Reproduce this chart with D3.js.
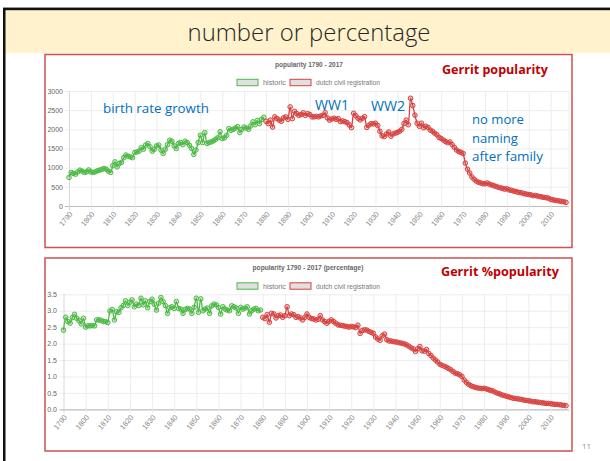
<!DOCTYPE html>
<html><head><meta charset="utf-8">
<script src="https://cdn.jsdelivr.net/npm/d3@7"></script>
<style>body{margin:0;background:#fff;} svg{display:block}</style>
</head><body>
<svg id="c" width="610" height="461"></svg>
<script>
// ---------------- DATA ----------------
const historicStart = 1790;   // first year of the "historic" series
const civilStart = 1880;      // first year of the "dutch civil registration" series

const historicCount = [
  745, 875, 850, 830, 890, 935, 910, 875, 890, 940,
  890, 875, 890, 920, 935, 955, 980, 960, 910, 875,
  1050, 1150, 1020, 1110, 1140, 1260, 1330, 1300, 1280, 1260,
  1395, 1410, 1430, 1520, 1480, 1590, 1630, 1545, 1430, 1480,
  1570, 1590, 1460, 1370, 1480, 1600, 1715, 1690, 1570, 1500,
  1630, 1655, 1600, 1690, 1655, 1585, 1500, 1345, 1460, 1655,
  1845, 1655, 1915, 1630, 1655, 1675, 1700, 1740, 1780, 1935,
  1760, 1780, 1845, 2020, 1975, 2000, 2035, 2070, 1915, 2000,
  2060, 2035, 2000, 2090, 2195, 2120, 2230, 2150, 2260, 2315
];
const civilCount = [
  2210, 2150, 2240, 2060, 2325, 2280, 2240, 2210, 2300, 2325,
  2260, 2585, 2280, 2470, 2410, 2365, 2385, 2430, 2365, 2410,
  2385, 2325, 2325, 2340, 2325, 2350, 2365, 2435, 2300, 2240,
  2270, 2290, 2260, 2280, 2200, 2220, 2200, 2175, 2115, 2045,
  2420, 2355, 2290, 2245, 2290, 2330, 2050, 2110, 2150, 2140,
  2160, 2100, 1950, 1830, 1810, 1880, 1930, 1820, 1880, 1900,
  1920, 1950, 2000, 2150, 2240, 2120, 2810, 2620, 2370, 2160,
  2080, 2160, 2040, 2080, 2050, 1980, 1950, 1900, 1860, 1790,
  1760, 1720, 1680, 1650, 1670, 1600, 1530, 1460, 1420, 1400,
  1370, 1120, 960, 860, 760, 700, 650, 620, 600, 580,
  580, 600, 570, 550, 530, 510, 490, 475, 460, 440,
  450, 420, 410, 390, 380, 360, 350, 340, 320, 310,
  300, 290, 270, 275, 260, 245, 235, 225, 215, 205,
  170, 160, 150, 140, 130, 120, 110, 95
];
const historicPct = [
  2.41, 2.80, 2.67, 2.62, 2.79, 2.89, 2.77, 2.70, 2.60, 2.77,
  2.50, 2.54, 2.54, 2.55, 2.54, 2.72, 2.72, 2.71, 2.67, 2.67,
  2.64, 2.99, 3.04, 2.72, 2.97, 2.95, 3.09, 3.16, 3.30, 3.16,
  3.26, 3.33, 3.12, 3.20, 3.16, 3.38, 3.18, 3.30, 3.09, 3.28,
  3.35, 3.20, 3.02, 3.23, 3.40, 3.28, 3.16, 2.92, 3.09, 3.12,
  3.07, 3.28, 3.07, 3.05, 2.92, 3.04, 3.07, 3.05, 2.92, 3.10,
  3.38, 2.95, 3.36, 3.00, 3.05, 3.08, 2.92, 3.15, 3.20, 3.18,
  3.10, 2.90, 3.12, 3.05, 3.02, 3.00, 3.15, 3.12, 3.08, 2.92,
  3.10, 3.05, 3.08, 3.12, 2.90, 3.00, 3.05, 3.07, 3.00, 3.02
];
const civilPct = [
  2.80, 2.76, 2.88, 2.65, 2.92, 2.90, 2.78, 2.85, 2.87, 2.80,
  2.85, 3.12, 2.85, 2.90, 2.88, 2.80, 2.82, 2.78, 2.72, 2.80,
  2.90, 2.80, 2.76, 2.75, 2.72, 2.74, 2.85, 2.72, 2.67, 2.62,
  2.68, 2.72, 2.67, 2.62, 2.57, 2.56, 2.55, 2.53, 2.52, 2.50,
  2.52, 2.51, 2.49, 2.56, 2.31, 2.40, 2.42, 2.41, 2.37, 2.34,
  2.31, 2.20, 2.14, 2.10, 2.24, 2.29, 2.12, 2.08, 2.08, 2.06,
  2.05, 2.04, 2.02, 2.01, 1.99, 1.96, 1.92, 1.87, 1.84, 1.76,
  1.84, 1.91, 1.78, 1.77, 1.82, 1.70, 1.64, 1.56, 1.50, 1.44,
  1.37, 1.34, 1.31, 1.28, 1.24, 1.20, 1.15, 1.10, 1.08, 1.05,
  1.00, 0.89, 0.82, 0.76, 0.72, 0.69, 0.67, 0.65, 0.64, 0.63,
  0.64, 0.62, 0.60, 0.57, 0.56, 0.52, 0.49, 0.47, 0.44, 0.42,
  0.40, 0.38, 0.36, 0.34, 0.33, 0.32, 0.31, 0.30, 0.28, 0.27,
  0.26, 0.25, 0.23, 0.23, 0.22, 0.21, 0.20, 0.19, 0.18, 0.18,
  0.17, 0.16, 0.15, 0.15, 0.14, 0.13, 0.12, 0.11
];
const yearTickLabels = [1790,1800,1810,1820,1830,1840,1850,1860,1870,1880,1890,1900,1910,1920,1930,1940,1950,1960,1970,1980,1990,2000,2010];
const countTickLabels = [0,500,1000,1500,2000,2500,3000];
const pctTickLabels = [0,0.5,1.0,1.5,2.0,2.5,3.0,3.5];
const seriesNames = ["historic", "dutch civil registration"];
const slideTitle = "number or percentage";
const chartTitles = ["popularity 1790 - 2017", "popularity 1790 - 2017 (percentage)"];
const redLabels = ["Gerrit popularity", "Gerrit %popularity"];
const lastYear = 2017;

// ---------------- DRAW ----------------
const svg = d3.select("#c");
const GREEN = "#4cb944", RED = "#d8413f";
const chartFont = "'Liberation Sans', Arial, sans-serif";
const slideFont = "'Open Sans', 'Noto Sans', sans-serif";

function fit(sel, w) {
  const cur = sel.node().getComputedTextLength();
  const fs = parseFloat(sel.attr("font-size"));
  if (cur > 0) sel.attr("font-size", fs * w / cur);
  return sel;
}

// slide frame
svg.append("rect").attr("x", 5).attr("y", 10).attr("width", 605).attr("height", 43).attr("fill", "#fff2cc");
svg.append("rect").attr("x", 3).attr("y", 7).attr("width", 607).attr("height", 1).attr("fill", "#999");
svg.append("rect").attr("x", 3).attr("y", 8).attr("width", 607).attr("height", 2.2).attr("fill", "#111");
svg.append("rect").attr("x", 3).attr("y", 8).attr("width", 2.5).attr("height", 453).attr("fill", "#111");

fit(svg.append("text").attr("x", 309).attr("y", 31).attr("text-anchor", "middle")
  .attr("dominant-baseline", "central").attr("font-family", slideFont).attr("font-weight", 300)
  .attr("font-size", 22).attr("fill", "#262626").text(slideTitle), 243);

fit(svg.append("text").attr("x", 582).attr("y", 446).attr("dominant-baseline", "central")
  .attr("font-family", slideFont).attr("font-size", 9).attr("fill", "#8c8c8c").text("11"), 9);

function drawChart(cfg) {
  const g = svg.append("g");
  // red frame
  g.append("rect").attr("x", cfg.box[0]).attr("y", cfg.box[1])
    .attr("width", cfg.box[2] - cfg.box[0]).attr("height", cfg.box[3] - cfg.box[1])
    .attr("fill", "#fff").attr("stroke", "#d0504d").attr("stroke-width", 1.5);

  const x = d3.scaleLinear().domain([historicStart, lastYear]).range([cfg.left, cfg.right]);
  const y = d3.scaleLinear().domain([0, cfg.ticks[cfg.ticks.length - 1]]).range([cfg.bottom, cfg.top]);

  // horizontal grid + y labels
  const yAxis = d3.axisLeft(y).tickValues(cfg.ticks).tickSize(cfg.right + 3 - cfg.left + 4)
    .tickPadding(2).tickFormat(cfg.fmt);
  const ya = g.append("g").attr("transform", `translate(${cfg.right + 3},0)`).call(yAxis);
  ya.select(".domain").remove();
  ya.selectAll(".tick line").attr("stroke", (d) => d === 0 ? "#bdbdbd" : "#e8e8e8").attr("stroke-width", (d)=> d===0?1.2:0.8);
  ya.selectAll(".tick text").attr("font-family", chartFont).attr("font-size", 7).attr("fill", "#666")
    .attr("x", cfg.yLabelX - (cfg.right + 3));

  // vertical grid + x labels
  const xAxis = d3.axisBottom(x).tickValues(yearTickLabels).tickSize(-(cfg.bottom - cfg.top) - 0)
    .tickFormat(d3.format("d"));
  const xa = g.append("g").attr("transform", `translate(0,${cfg.bottom + 4})`).call(xAxis);
  xa.select(".domain").remove();
  xa.selectAll(".tick line").attr("y1", 0).attr("y2", -(cfg.bottom - cfg.top) - 4)
    .attr("stroke", (d) => d === historicStart ? "#cfcfcf" : "#e8e8e8").attr("stroke-width", 0.8);
  xa.selectAll(".tick text").attr("font-family", chartFont).attr("font-size", 7.4).attr("fill", "#888")
    .attr("text-anchor", "end").attr("dy", null).attr("y", 0)
    .attr("transform", "translate(2,3) rotate(-50)").attr("dominant-baseline", "middle");
  // right edge line
  g.append("line").attr("x1", cfg.right + 3).attr("x2", cfg.right + 3).attr("y1", cfg.top).attr("y2", cfg.bottom + 4)
    .attr("stroke", "#e8e8e8").attr("stroke-width", 0.8);

  // title & legend
  fit(g.append("text").attr("x", cfg.titleX).attr("y", cfg.titleY).attr("text-anchor", "middle")
    .attr("dominant-baseline", "central").attr("font-family", chartFont).attr("font-weight", "bold")
    .attr("font-size", 6.5).attr("fill", "#666").text(cfg.title), cfg.titleW);
  const leg = [[237, GREEN, seriesNames[0], 263, 23], [290, RED, seriesNames[1], 316, 64]];
  leg.forEach(([bx, col, name, tx, tw]) => {
    g.append("rect").attr("x", bx).attr("y", cfg.legendY - 3.2).attr("width", 21).attr("height", 6.4)
      .attr("fill", "#e0e0e0").attr("stroke", col).attr("stroke-width", 1);
    fit(g.append("text").attr("x", tx).attr("y", cfg.legendY).attr("dominant-baseline", "central")
      .attr("font-family", chartFont).attr("font-size", 6.5).attr("fill", "#777").text(name), tw);
  });

  // series
  const series = [
    { start: historicStart, vals: cfg.hist, col: GREEN },
    { start: civilStart, vals: cfg.civil, col: RED }
  ];
  const line = d3.line().x((d) => x(d.yr)).y((d) => y(d.v)).curve(d3.curveMonotoneX);
  series.forEach((s) => {
    const pts = s.vals.map((v, i) => ({ yr: s.start + i, v }));
    g.append("path").datum(pts).attr("d", line).attr("fill", "none").attr("stroke", s.col)
      .attr("stroke-width", 1.3);
    g.append("g").selectAll("circle").data(pts).join("circle")
      .attr("cx", (d) => x(d.yr)).attr("cy", (d) => y(d.v)).attr("r", 2.3)
      .attr("fill", s.col).attr("fill-opacity", 0.3).attr("stroke", s.col).attr("stroke-width", 1);
  });

  // red label
  fit(g.append("text").attr("x", cfg.redX).attr("y", cfg.redY).attr("dominant-baseline", "central")
    .attr("font-family", slideFont).attr("font-weight", "bold").attr("font-size", 13)
    .attr("fill", "#c00000").text(cfg.red), cfg.redW);
  return g;
}

drawChart({
  box: [45, 54.5, 572, 247.5], left: 69, right: 566, top: 91, bottom: 206,
  ticks: countTickLabels, fmt: d3.format("d"), yLabelX: 63,
  title: chartTitles[0], titleX: 309, titleY: 64, titleW: 68, legendY: 82.5,
  hist: historicCount, civil: civilCount,
  red: redLabels[0], redX: 442, redY: 69, redW: 106
});
drawChart({
  box: [45, 258, 572, 451], left: 63.5, right: 566, top: 294.3, bottom: 409.3,
  ticks: pctTickLabels, fmt: d3.format(".1f"), yLabelX: 57,
  title: chartTitles[1], titleX: 308, titleY: 267, titleW: 111, legendY: 286,
  hist: historicPct, civil: civilPct,
  red: redLabels[1], redX: 441, redY: 271, redW: 118
});

// blue annotations
const notes = [
  ["birth rate growth", 103, 108, 106],
  ["WW1", 315, 104, 34],
  ["WW2", 371, 105, 34],
  ["no more", 472, 119, 52],
  ["naming", 472, 138, 46],
  ["after family", 472, 156, 71]
];
notes.forEach(([t, nx, ny, w]) => {
  fit(svg.append("text").attr("x", nx).attr("y", ny).attr("dominant-baseline", "central")
    .attr("font-family", slideFont).attr("font-size", 14).attr("fill", "#0070c0").text(t), w);
});
</script>
</body></html>
